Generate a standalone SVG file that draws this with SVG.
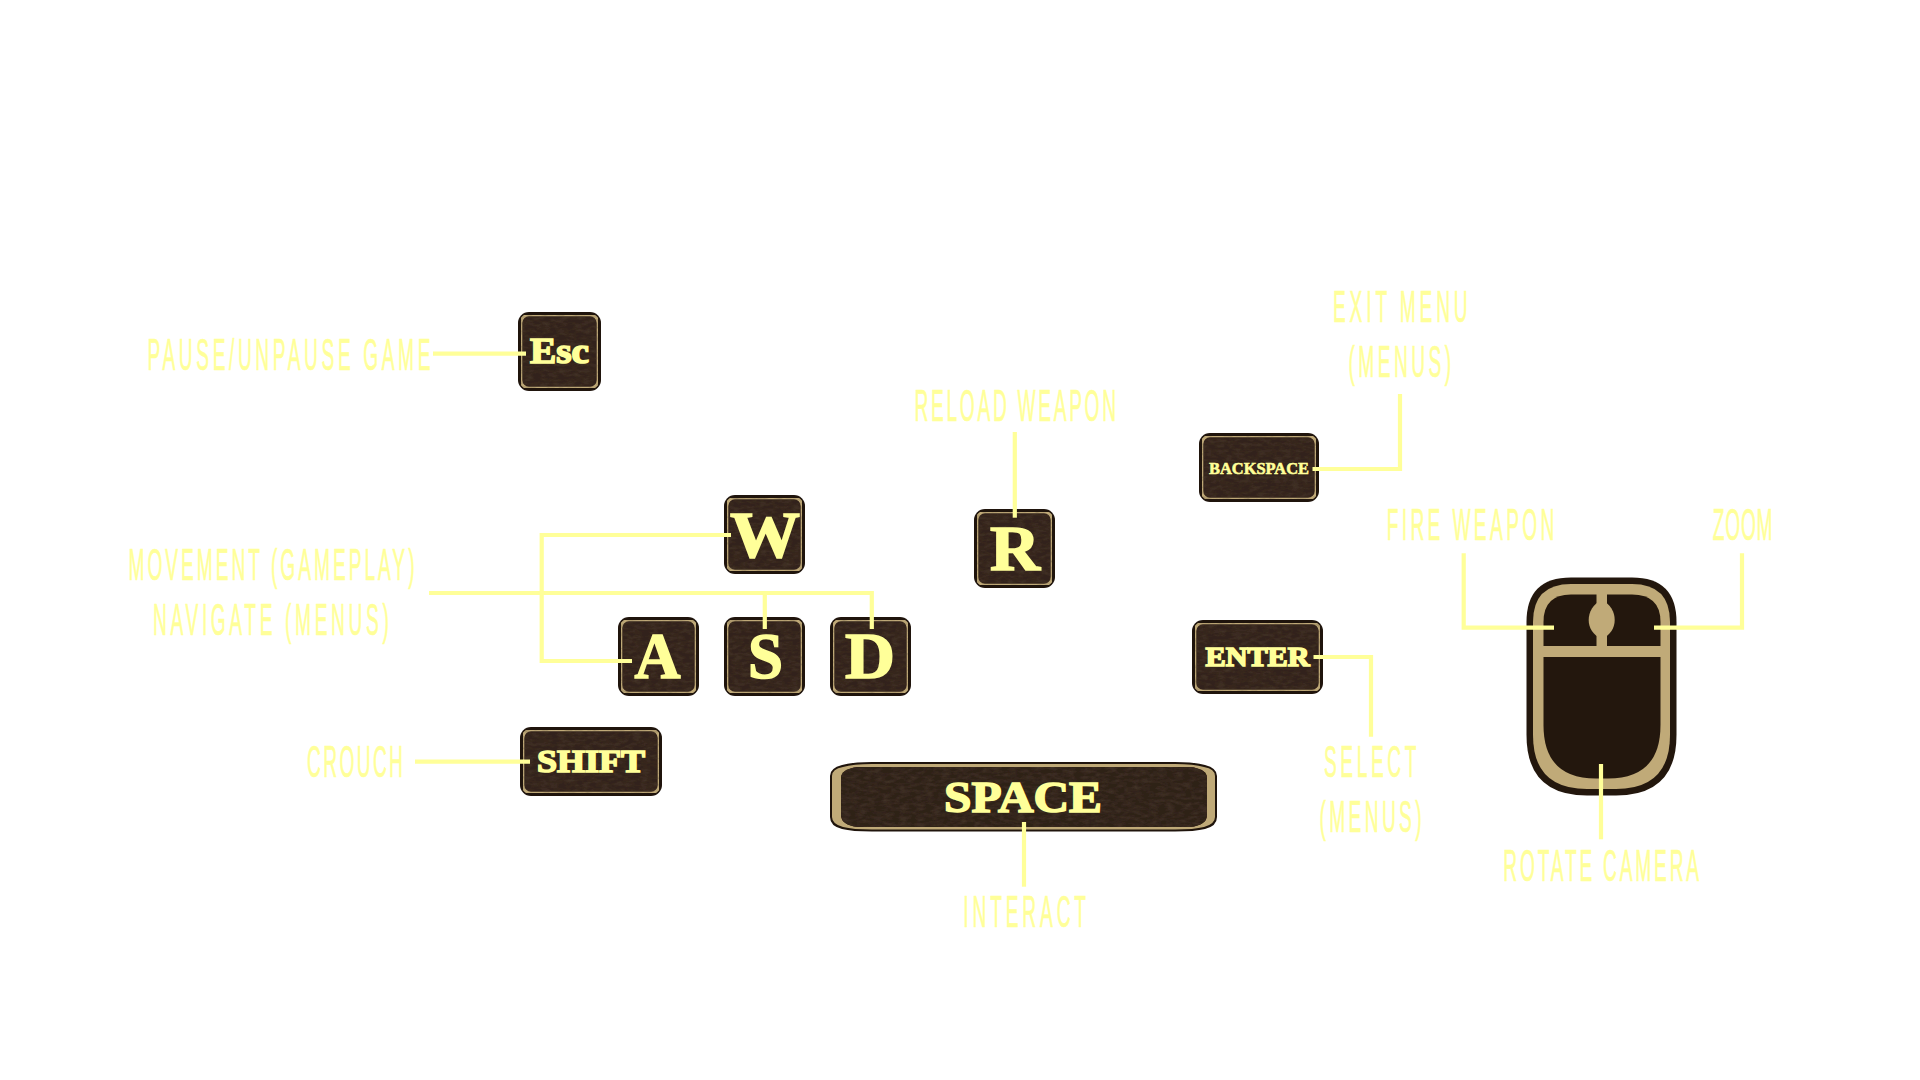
<svg xmlns="http://www.w3.org/2000/svg" width="1920" height="1080" viewBox="0 0 1920 1080">
<style>
.lbl{font-family:"Liberation Sans",Arial,sans-serif;font-size:43.5px;fill:#ffff99;stroke:#ffff99;stroke-width:.7px}
.key{font-family:"Liberation Serif","Times New Roman",serif;font-weight:bold;fill:#ffff99;stroke:#ffff99;stroke-width:1.6px}
.o{fill:#1f140c}
.r{fill:#33231a;stroke:#c0aa78;stroke-width:2.6px;filter:url(#wood)}
.tan{fill:#c0aa78}
.dk{fill:#23170d}
.c{fill:none;stroke:#ffff99;stroke-width:4.2px}
</style>
<defs>
<filter id="wood" x="0" y="0" width="100%" height="100%">
<feTurbulence type="fractalNoise" baseFrequency="0.12 0.3" numOctaves="3" seed="4" result="n"/>
<feColorMatrix in="n" type="matrix" values="0 0 0 0 0.08  0 0 0 0 0.05  0 0 0 0 0.03  0 0 0 .9 -0.36" result="d"/>
<feComposite in="d" in2="SourceGraphic" operator="atop"/>
<feMerge><feMergeNode in="SourceGraphic"/><feMergeNode/></feMerge>
</filter>
</defs>
<rect width="1920" height="1080" fill="#ffffff"/>

<g id="key-esc"><rect class="o" x="518" y="312" width="83" height="79" rx="11"/><rect class="r" x="521" y="315" width="77" height="73" rx="8"/><text class="key" x="530" y="363" font-size="35" textLength="59" lengthAdjust="spacingAndGlyphs">Esc</text></g>
<g id="key-w"><rect class="o" x="724" y="495" width="81" height="79" rx="11"/><rect class="r" x="727" y="498" width="75" height="73" rx="8"/><text class="key" x="730" y="557" font-size="66" textLength="70" lengthAdjust="spacingAndGlyphs">W</text></g>
<g id="key-a"><rect class="o" x="618" y="617" width="81" height="79" rx="11"/><rect class="r" x="621" y="620" width="75" height="73" rx="8"/><text class="key" x="634.5" y="678" font-size="66" textLength="46" lengthAdjust="spacingAndGlyphs">A</text></g>
<g id="key-s"><rect class="o" x="724" y="617" width="81" height="79" rx="11"/><rect class="r" x="727" y="620" width="75" height="73" rx="8"/><text class="key" x="748" y="678" font-size="66" textLength="35" lengthAdjust="spacingAndGlyphs">S</text></g>
<g id="key-d"><rect class="o" x="830" y="617" width="81" height="79" rx="11"/><rect class="r" x="833" y="620" width="75" height="73" rx="8"/><text class="key" x="845" y="678" font-size="66" textLength="50" lengthAdjust="spacingAndGlyphs">D</text></g>
<g id="key-r"><rect class="o" x="974" y="509" width="81" height="79" rx="11"/><rect class="r" x="977" y="512" width="75" height="73" rx="8"/><text class="key" x="990" y="570" font-size="64" textLength="50" lengthAdjust="spacingAndGlyphs">R</text></g>
<g id="key-shift"><rect class="o" x="520" y="727" width="142" height="69" rx="11"/><rect class="r" x="523" y="730" width="136" height="63" rx="8"/><text class="key" x="537" y="772" font-size="31" textLength="108" lengthAdjust="spacingAndGlyphs">SHIFT</text></g>
<g id="key-backspace"><rect class="o" x="1199" y="433" width="120" height="69" rx="11"/><rect class="r" x="1202" y="436" width="114" height="63" rx="8"/><text class="key" x="1209" y="473.5" font-size="17" textLength="100" lengthAdjust="spacingAndGlyphs" style="stroke-width:.6px">BACKSPACE</text></g>
<g id="key-enter"><rect class="o" x="1192" y="620" width="131" height="74" rx="11"/><rect class="r" x="1195" y="623" width="125" height="68" rx="8"/><text class="key" x="1205.5" y="666" font-size="27" textLength="104" lengthAdjust="spacingAndGlyphs">ENTER</text></g>
<g id="key-space">
<path class="o" d="M830 776Q830 768 842 765Q852 762 872 762H1175Q1195 762 1205 765Q1217 768 1217 776V817Q1217 826 1205 829Q1195 831.5 1175 831.5H872Q852 831.5 842 829Q830 826 830 817Z"/>
<path class="tan" d="M832 776Q832 769 843 767Q853 764 872 764H1175Q1194 764 1204 767Q1215 769 1215 776V817Q1215 824 1204 827Q1194 829.5 1175 829.5H872Q853 829.5 843 827Q832 824 832 817Z"/>
<path d="M841 778Q841 769 858 767H1190Q1207 769 1207 778V815Q1207 825 1190 827H858Q841 825 841 815Z" style="fill:#2f2118;filter:url(#wood)"/>
<text class="key" x="944" y="812" font-size="45" textLength="158" lengthAdjust="spacingAndGlyphs">SPACE</text>
</g>
<g id="mouse">
<path class="dk" d="M1526.5 622Q1526.5 577.5 1571 577.5H1632Q1676.5 577.5 1676.5 622V735Q1676.5 795.5 1616 795.5H1587Q1526.5 795.5 1526.5 735Z"/>
<path class="tan" d="M1533 622Q1533 584 1571 584H1632Q1670 584 1670 622V735Q1670 789 1616 789H1587Q1533 789 1533 735Z"/>
<path class="dk" d="M1543.5 646V622Q1543.5 594.5 1571 594.5H1596.5V646Z"/>
<path class="dk" d="M1607 594.5H1632Q1660.5 594.5 1660.5 622V646H1607Z"/>
<path class="dk" d="M1543.5 657H1660.5V725Q1660.5 778.5 1608 778.5H1596Q1543.5 778.5 1543.5 725Z"/>
<path class="tan" d="M1601.7 600C1593 604 1588.7 612 1588.7 620C1588.7 628 1593 635 1601.7 639C1610.5 635 1614.7 628 1614.7 620C1614.7 612 1610.5 604 1601.7 600Z"/>
</g>

<g id="connectors">
<path class="c" d="M433 353.7H526"/>
<path class="c" d="M731 535H541.7V661H632"/>
<path class="c" d="M429 593H871.8V629"/>
<path class="c" d="M764.8 593V629"/>
<path class="c" d="M415 761.7H530"/>
<path class="c" d="M1014.8 432V517.7"/>
<path class="c" d="M1312.5 469H1400V394"/>
<path class="c" d="M1313.5 657H1371V736.7"/>
<path class="c" d="M1024 822V886.7"/>
<path class="c" d="M1463.7 553.3V627.7H1554"/>
<path class="c" d="M1742 553.3V627.7H1654"/>
<path class="c" d="M1601 764V839.3"/>
</g>

<g id="labels">
<text class="lbl" transform="translate(147.5 369.5) scale(.44 1)" textLength="643" lengthAdjust="spacing">PAUSE/UNPAUSE GAME</text>
<text class="lbl" transform="translate(128.5 579.5) scale(.44 1)" textLength="650" lengthAdjust="spacing">MOVEMENT (GAMEPLAY)</text>
<text class="lbl" transform="translate(153 634.5) scale(.44 1)" textLength="536" lengthAdjust="spacing">NAVIGATE (MENUS)</text>
<text class="lbl" transform="translate(307 777) scale(.44 1)" textLength="218" lengthAdjust="spacing">CROUCH</text>
<text class="lbl" transform="translate(914.5 420.5) scale(.44 1)" textLength="458" lengthAdjust="spacing">RELOAD WEAPON</text>
<text class="lbl" transform="translate(1333 321.5) scale(.44 1)" textLength="306" lengthAdjust="spacing">EXIT MENU</text>
<text class="lbl" transform="translate(1348.5 376.5) scale(.44 1)" textLength="233" lengthAdjust="spacing">(MENUS)</text>
<text class="lbl" transform="translate(1386.7 540) scale(.44 1)" textLength="381" lengthAdjust="spacing">FIRE WEAPON</text>
<text class="lbl" transform="translate(1712.7 540) scale(.44 1)" textLength="136" lengthAdjust="spacing">ZOOM</text>
<text class="lbl" transform="translate(1503.3 880.7) scale(.44 1)" textLength="445" lengthAdjust="spacing">ROTATE CAMERA</text>
<text class="lbl" transform="translate(1324 777.3) scale(.44 1)" textLength="210" lengthAdjust="spacing">SELECT</text>
<text class="lbl" transform="translate(1319.5 832.3) scale(.44 1)" textLength="232" lengthAdjust="spacing">(MENUS)</text>
<text class="lbl" transform="translate(963.3 927.3) scale(.44 1)" textLength="279" lengthAdjust="spacing">INTERACT</text>
</g>
</svg>
